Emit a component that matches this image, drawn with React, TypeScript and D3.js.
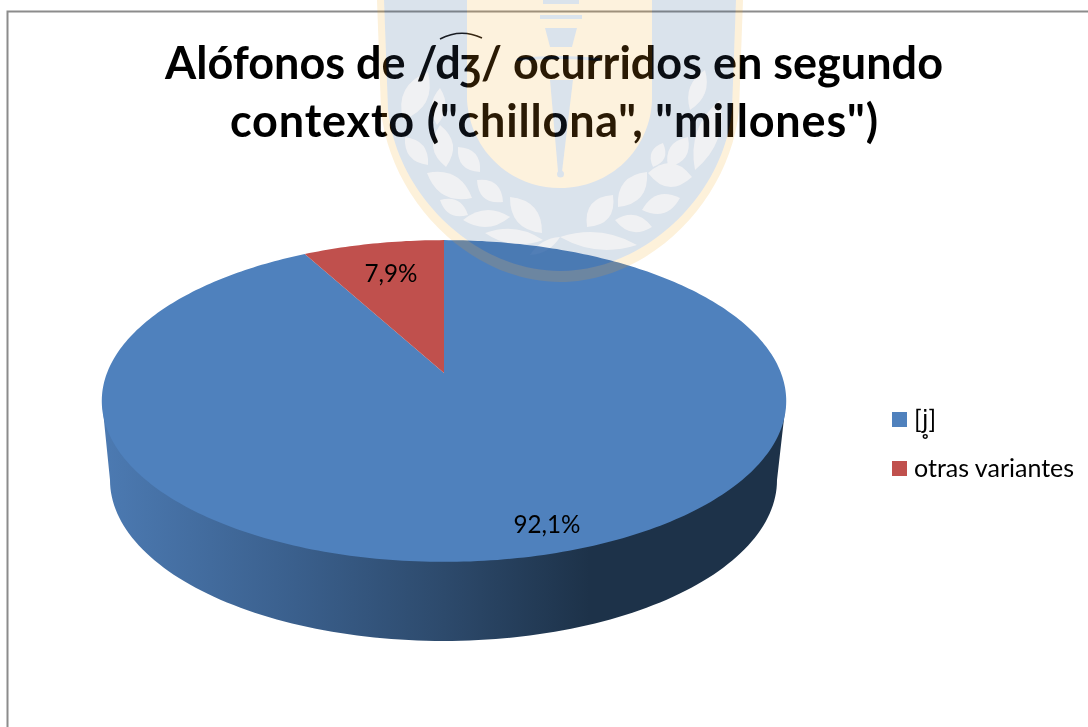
import React from "react";
import * as d3 from "d3";

const categories = ["[j̥]", "otras variantes"];
const shares = [92.1, 7.9];
const valueLabels = ["92,1%", "7,9%"];
const sliceColors = ["#4f81bd", "#c0504d"];
const titleLines = ["Alófonos de /dʒ/ ocurridos en segundo", 'contexto ("chillona", "millones")'];

const W = 1088, H = 727;
const FONT = "Lato, Carlito, Calibri, sans-serif";

// Perspective of the pie: apex (444,373), rim ellipse spans x 102..786 and y 240..562
const apex = { x: 444, y: 373 };
const persp = { a: 337, b: 156, k: 0.174 };
const project = (t: number): [number, number] => {
  const u = Math.sin(t), v = -Math.cos(t);
  const w = 1 - persp.k * v;
  return [apex.x + (persp.a * u) / w, apex.y + (persp.b * v) / w];
};
const line = d3.line();
const sliceAngles = d3.pie<number>().sort(null)(shares);
const slicePath = (s: number, e: number) => {
  const steps = Math.max(8, Math.ceil((e - s) * 60));
  const rim = d3.range(steps + 1).map((i) => project(s + ((e - s) * i) / steps));
  return line([[apex.x, apex.y], ...rim])! + "Z";
};

// side wall
const wallX = d3.scaleLinear().domain([-1, 1]).range([110, 777]);
const wallY = d3.scaleLinear().domain([0, 1]).range([480, 641]);
const wallArc: [number, number][] = d3.range(0, 121).map((i) => {
  const t = (Math.PI * i) / 120;
  return [wallX(Math.cos(t)), wallY(Math.sin(t))];
});
const wallPath = line([[786, 401], ...wallArc, [102, 401]])! + "Z";

// crest behind the page
type Pal = { fringe: string; blue: string; cream: string; leaf: string };
const multiplyPal: Pal = { fringe: "#fdf0da", blue: "#d9e1ea", cream: "#fdf0dc", leaf: "#eff0f2" };
const screenPal: Pal = { fringe: "#2a1800", blue: "#0a0e14", cream: "#2a1a04", leaf: "#0a0a0a" };
const leaves: [number, number, number, number, number][] = [
  [428, 72, 403, 120, 24], [440, 88, 437, 125, 14], [440, 125, 446, 167, 20], [405, 137, 428, 165, 17],
  [458, 147, 480, 172, 17], [427, 173, 472, 198, 22], [477, 180, 503, 202, 18], [440, 200, 468, 215, 15],
  [463, 220, 510, 217, 17], [510, 197, 542, 233, 22], [485, 233, 543, 240, 15], [530, 255, 560, 237, 9],
  [587, 227, 613, 195, 22], [615, 220, 652, 227, 17], [618, 207, 647, 172, 22], [648, 173, 692, 177, 24],
  [642, 210, 680, 198, 19], [653, 167, 663, 143, 14], [668, 167, 688, 137, 18], [695, 170, 720, 100, 22],
  [690, 110, 705, 70, 16], [560, 237, 637, 245, 17],
];
const leafPath = ([x1, y1, x2, y2, w]: number[]) => {
  const mx = (x1 + x2) / 2, my = (y1 + y2) / 2;
  const dx = x2 - x1, dy = y2 - y1, L = Math.hypot(dx, dy) || 1;
  const nx = (-dy / L) * w, ny = (dx / L) * w;
  return `M${x1},${y1}Q${mx + nx},${my + ny} ${x2},${y2}Q${mx - nx},${my - ny} ${x1},${y1}Z`;
};
const Crest = ({ pal, mode }: { pal: Pal; mode: string }) => (
  <g style={{ mixBlendMode: mode as any }} pointerEvents="none">
    <path fill={pal.fringe} d="M377,0L381,110C390,200 470,282 560,282C650,282 730,200 739,110L743,0Z" />
    <path fill={pal.blue} d="M384,0L388,110C397,195 475,271 560,271C645,271 724,195 732,110L736,0Z" />
    <path fill={pal.cream} d="M467,0L467,100C470,150 510,188 560,188C610,188 650,150 652,100L652,0Z" />
    <g fill={pal.blue}>
      <rect x={543} y={0} width={36} height={4} />
      <rect x={540} y={15} width={42} height={4} />
      <path d="M545,28L577,28L572,47L550,47Z" />
      <path d="M517,58Q560,54 600,58L600,61Q560,57 517,61Z" />
      <path d="M550,80L573,80L562,172L558,172Z" />
      <circle cx={560.5} cy={174} r={3.5} />
    </g>
    <g fill={pal.leaf}>
      {leaves.map((l, i) => <path key={i} d={leafPath(l)} />)}
    </g>
  </g>
);

export default function App() {
  const order = [0, 1];
  return (
    <svg width={W} height={H} viewBox={`0 0 ${W} ${H}`}
      style={{ position: "absolute", left: 0, top: 0, display: "block", background: "#fff", fontFamily: FONT }}>
      <defs>
        <linearGradient id="wall" gradientUnits="userSpaceOnUse" x1={102} x2={590} y1={0} y2={0}>
          <stop offset="0" stopColor="#4c7ab2" />
          <stop offset="0.4" stopColor="#3a5f8c" />
          <stop offset="0.7" stopColor="#2d4a6c" />
          <stop offset="1" stopColor="#1d3249" />
        </linearGradient>
      </defs>
      <rect width={W} height={H} fill="#fff" />
      <path d={`M7.5,${H}V11.5H${W}`} fill="none" stroke="#8c8c8c" strokeWidth={2} />

      <path d={wallPath} fill="url(#wall)" />
      {order.map((i) => (
        <path key={i} d={slicePath(sliceAngles[i].startAngle, sliceAngles[i].endAngle)} fill={sliceColors[i]} />
      ))}

      <g textAnchor="middle" fontWeight={700} fontSize={45} fill="#000">
        <text x={554} y={79}>{titleLines[0]}</text>
        <text x={554} y={137} textLength={648} lengthAdjust="spacing">{titleLines[1]}</text>
      </g>
      <path d="M440,39Q461,28 482,38" fill="none" stroke="#111" strokeWidth={1.5} />

      <g textAnchor="middle" fontSize={24.2} fill="#000">
        <text x={547} y={533}>{valueLabels[0]}</text>
        <text x={391} y={282}>{valueLabels[1]}</text>
      </g>

      <g fontSize={25} fill="#000">
        {categories.map((c, i) => {
          const y = d3.scaleLinear().domain([0, 1]).range([412, 461])(i);
          return (
            <g key={c}>
              <rect x={892} y={y} width={15} height={15} fill={sliceColors[i]} />
              <text x={914} y={y + 15.5}>
                {i === 0 ? (
                  <>[<tspan fontFamily="'DejaVu Sans'" fontSize={25}>{c.slice(1, -1)}</tspan>]</>
                ) : c}
              </text>
            </g>
          );
        })}
      </g>

      <Crest pal={multiplyPal} mode="multiply" />
      <Crest pal={screenPal} mode="screen" />
    </svg>
  );
}
